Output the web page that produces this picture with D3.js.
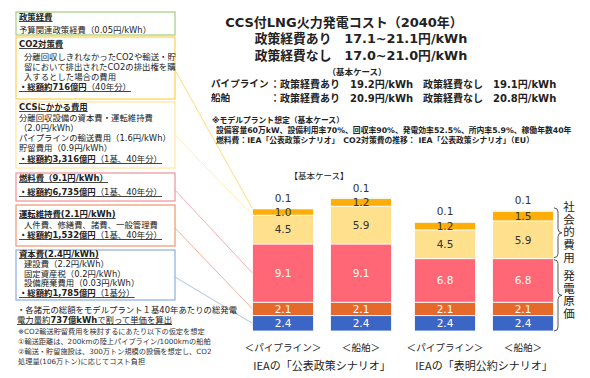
<!DOCTYPE html>
<html><head><meta charset="utf-8">
<script src="https://cdn.jsdelivr.net/npm/d3@7/dist/d3.min.js"></script>
<style>body{margin:0;background:#fff}svg{display:block}</style>
</head><body><svg id="c" width="590" height="378"></svg>
<script>
// ---------- data ----------
const scenarios = ["IEAの「公表政策シナリオ」", "IEAの「表明公約シナリオ」"];
const transports = ["＜パイプライン＞", "＜船舶＞"];
const seriesNames = ["資本費", "運転維持費", "燃料費", "CCSにかかる費用", "CO2対策費", "政策経費"];
const capitalCost = [2.4, 2.4, 2.4, 2.4];
const omCost      = [2.1, 2.1, 2.1, 2.1];
const fuelCost    = [9.1, 9.1, 6.8, 6.8];
const ccsCost     = [4.5, 5.9, 4.5, 5.9];
const co2Cost     = [1.0, 1.2, 1.2, 1.5];
const policyCost  = [0.1, 0.1, 0.1, 0.1];
const valueLabels = [["2.4","2.4","2.4","2.4"],["2.1","2.1","2.1","2.1"],["9.1","9.1","6.8","6.8"],["4.5","5.9","4.5","5.9"],["1.0","1.2","1.2","1.5"],["0.1","0.1","0.1","0.1"]];
const groupLabels = ["社会的費用", "発電原価"];

const titleLines = ["CCS付LNG火力発電コスト（2040年）", "政策経費あり　17.1~21.1円/kWh", "政策経費なし　17.0~21.0円/kWh"];
const caseLines = [["パイプライン", "：政策経費あり　19.2円/kWh　政策経費なし　19.1円/kWh"], ["船舶", "：政策経費あり　20.9円/kWh　政策経費なし　20.8円/kWh"]];
const modelLines = ["※モデルプラント想定（基本ケース）", "設備容量60万kW、設備利用率70%、回収率90%、発電効率52.5%、所内率5.9%、稼働年数40年", "燃料費：IEA「公表政策シナリオ」　CO2対策費の推移：  IEA「公表政策シナリオ」（EU）"];

// box text: each line = list of [text, bold], u = underline, ind = indent
const boxTexts = [
  [{s:[["政策経費",1]],u:1},{s:[["予算関連政策経費（0.05円/kWh）",0]]}],
  [{s:[["CO2対策費",1]],u:1},{s:[["分離回収しきれなかったCO2や輸送・貯",0]],ind:1},{s:[["留において排出されたCO2の排出権を購",0]],ind:1},{s:[["入するとした場合の費用",0]],ind:1},{s:[["・総額約716億円",1],["（40年分）",0]],u:1}],
  [{s:[["CCSにかかる費用",1]],u:1},{s:[["分離回収設備の資本費・運転維持費",0]]},{s:[["（2.0円/kWh）",0]]},{s:[["パイプラインの輸送費用（1.6円/kWh）",0]]},{s:[["貯留費用（0.9円/kWh）",0]]},{s:[["・総額約3,316億円",1],["（1基、40年分）",0]],u:1}],
  [{s:[["燃料費（9.1円/kWh）",1]],u:1},{s:[["・総額約6,735億円",1],["（1基、40年分）",0]],u:1}],
  [{s:[["運転維持費(2.1円/kWh)",1]],u:1},{s:[["人件費、修繕費、諸費、一般管理費",0]],ind:1},{s:[["・総額約1,532億円",1],["（1基、40年分）",0]],u:1}],
  [{s:[["資本費(2.4円/kWh)",1]],u:1},{s:[["建設費（2.2円/kWh）",0]],ind:1},{s:[["固定資産税（0.2円/kWh）",0]],ind:1},{s:[["設備廃棄費用（0.03円/kWh）",0]],ind:1},{s:[["・総額約1,785億円",1],["（1基分）",0]],u:1}]
];
const footLines = [
  {s:[["・各諸元の総額をモデルプラント１基40年あたりの総発電",0]]},
  {s:[["電力量約",0],["737億kWh",1],["で割って単価を算出",0]],u:1}
];
const noteLines = ["※CO2輸送貯留費用を検討するにあたり以下の仮定を想定", "①輸送距離は、200kmの陸上パイプライン/1000kmの船舶", "②輸送・貯留施設は、300万トン規模の設備を想定し、CO2", "処理量(106万トン)に応じてコスト負担"];

// ---------- styles / layout ----------
const F = "'DejaVu Sans','Noto Sans CJK JP',sans-serif";
const FJ = "'Noto Sans CJK JP','DejaVu Sans',sans-serif";
const seriesColors = ["#3B66C6", "#E5692B", "#FF6676", "#FFE08C", "#FFAD08", "#8DBE5E"];
const labelColors = ["#fff", "#fff", "#fff", "#333", "#333", "#333"];
const boxColors = ["#A9D18E", "#FFD45C", "#FFE8A6", "#F09AA3", "#EE9E7C", "#94B4E2"];
const boxY = [[12,35],[37,99],[102,168],[173,201],[205,246],[250,300]];
const boxLineY = [[20,33],[47,60,70,80,90],[110,121,131,141,151,162],[181,195],[217,228,238],[257,267,277,286,296]];
const connect = [null,[70,4],[135,3],[190,2],[228,1],[277,0]]; // [box y, series index]

const svg = d3.select("#c");
const series = [capitalCost, omCost, fuelCost, ccsCost, co2Cost, policyCost];

const x0 = d3.scaleBand().domain(scenarios).range([241, 565]);
const x1 = d3.scaleBand().domain(transports).range([0, x0.bandwidth()]).paddingInner(0.218).paddingOuter(0.147);
const y = d3.scaleLinear().domain([0, 20]).range([331, 203]);
const barX = i => x0(scenarios[Math.floor(i/2)]) + x1(transports[i%2]);

// stacked data
const stackData = [0,1,2,3].map(i => { const o = {i}; seriesNames.forEach((n,k)=> o[n] = series[k][i]); return o; });
const stacked = d3.stack().keys(seriesNames)(stackData);

function richText(g, x, yy, line, size, family) {
  const t = g.append("text").attr("x", x).attr("y", yy).attr("font-size", size).attr("font-family", family).attr("fill", "#222");
  if (line.u) t.attr("text-decoration", "underline");
  line.s.forEach(([txt, b]) => t.append("tspan").attr("font-weight", b ? "bold" : "normal").text(txt));
  return t;
}

// left boxes
boxTexts.forEach((lines, b) => {
  const g = svg.append("g");
  g.append("rect").attr("x", 16).attr("y", boxY[b][0]).attr("width", 159).attr("height", boxY[b][1]-boxY[b][0])
    .attr("fill", "#fff").attr("stroke", boxColors[b]).attr("stroke-width", 1.3);
  lines.forEach((ln, j) => richText(g, ln.ind ? 24 : 19, boxLineY[b][j], ln, 8.4, F));
});

// connectors
connect.forEach((c, b) => {
  if (!c) return;
  const seg = stacked[c[1]][0];
  const yy = c[1] >= 3 ? y(seg[1]) : y((seg[0]+seg[1])/2);
  svg.append("line").attr("x1", 175).attr("y1", c[0]).attr("x2", barX(0)).attr("y2", yy)
    .attr("stroke", boxColors[b]).attr("stroke-width", 0.8);
});

footLines.forEach((ln, j) => richText(svg, 17, [313, 323][j], ln, 8.4, F));
noteLines.forEach((t, j) => svg.append("text").attr("x", 18).attr("y", 334 + j*10).attr("font-size", 7.2).attr("font-family", F).attr("fill", "#333").text(t));

// bars
const layers = svg.append("g").selectAll("g").data(stacked).join("g").attr("fill", (d,k) => seriesColors[k]);
layers.selectAll("rect").data(d => d).join("rect")
  .attr("x", d => barX(d.data.i)).attr("width", x1.bandwidth())
  .attr("y", d => y(d[1])).attr("height", d => y(d[0]) - y(d[1]))
  .attr("stroke", "#fff").attr("stroke-width", 0.8);

// value labels
stacked.forEach((layer, k) => {
  layer.forEach(d => {
    const i = d.data.i;
    const cy = k === 5 ? y(d[1]) - 10 : (y(d[0]) + y(d[1]))/2;
    svg.append("text").attr("x", barX(i) + x1.bandwidth()/2).attr("y", cy).attr("dy", "0.36em")
      .attr("text-anchor", "middle").attr("font-family", F).attr("font-size", 10.5)
      .attr("fill", labelColors[k]).text(valueLabels[k][i]);
  });
});

// category labels
[0,1,2,3].forEach(i => {
  svg.append("text").attr("x", barX(i) + x1.bandwidth()/2).attr("y", 351).attr("text-anchor", "middle")
    .attr("font-family", FJ).attr("font-size", 9.6).attr("fill", "#222").text(transports[i%2]);
});
scenarios.forEach(s => {
  svg.append("text").attr("x", x0(s) + x0.bandwidth()/2).attr("y", 370).attr("text-anchor", "middle")
    .attr("font-family", FJ).attr("font-size", 11).attr("fill", "#222").text(s);
});

// braces
function brace(xa, ya, yb) {
  const xm = xa + 4, xt = xa + 8, ym = (ya + yb)/2, r = 4;
  return `M${xa},${ya} Q${xm},${ya} ${xm},${ya+r} L${xm},${ym-r} Q${xm},${ym} ${xt},${ym} Q${xm},${ym} ${xm},${ym+r} L${xm},${yb-r} Q${xm},${yb} ${xa},${yb}`;
}
const braceSpans = [[y(stacked[5][1][1]) + 10, y(stacked[2][3][1]) - 1], [y(stacked[2][3][1]) + 1, y(0)]];
braceSpans.forEach(([a, b], k) => {
  svg.append("path").attr("d", brace(554, a, b)).attr("fill", "none").attr("stroke", "#444").attr("stroke-width", 0.9);
  svg.append("text").attr("x", 569).attr("y", (a + b)/2)
    .attr("text-anchor", "middle").attr("font-family", FJ).attr("font-size", 11.5)
    .attr("style", "writing-mode: vertical-rl").attr("letter-spacing", 1.3).attr("fill", "#222").text(groupLabels[k]);
});

// header
svg.append("text").attr("x", 344).attr("y", 22).attr("dy", "0.36em").attr("text-anchor", "middle").attr("font-family", F)
  .attr("font-weight", "bold").attr("font-size", 13).attr("fill", "#222").text(titleLines[0]);
[1,2].forEach(k => svg.append("text").attr("x", 361).attr("y", [0,38,55][k]).attr("dy", "0.36em").attr("text-anchor", "middle")
  .attr("font-family", F).attr("font-weight", "bold").attr("font-size", 12.8).attr("fill", "#222").text(titleLines[k]));
svg.append("text").attr("x", 357).attr("y", 72).attr("dy", "0.36em").attr("text-anchor", "middle").attr("font-family", F)
  .attr("font-weight", "bold").attr("font-size", 8.5).attr("fill", "#222").text("（基本ケース）");
caseLines.forEach((c, k) => {
  const yy = [84, 98][k];
  svg.append("text").attr("x", 211).attr("y", yy).attr("dy", "0.36em").attr("font-family", F).attr("font-weight", "bold").attr("font-size", 9.6).attr("fill", "#222").text(c[0]);
  svg.append("text").attr("x", 270).attr("y", yy).attr("dy", "0.36em").attr("font-family", F).attr("font-weight", "bold").attr("font-size", 10).attr("fill", "#222").text(c[1]);
});
modelLines.forEach((t, k) => svg.append("text").attr("x", k ? 216 : 212).attr("y", [120,130,140][k]).attr("dy", "0.36em")
  .attr("font-family", F).attr("font-weight", "bold").attr("font-size", 7.8).attr("fill", "#222").text(t));
svg.append("text").attr("x", 319).attr("y", 176).attr("dy", "0.36em").attr("text-anchor", "middle").attr("font-family", FJ)
  .attr("font-size", 8.5).attr("fill", "#222").text("【基本ケース】");
</script></body></html>
